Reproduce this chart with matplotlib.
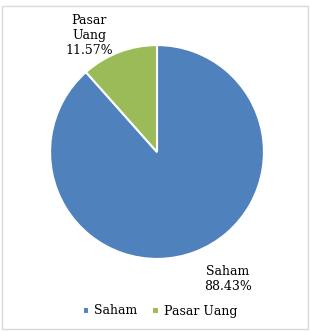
import matplotlib.pyplot as plt
from matplotlib.patches import Rectangle

labels = ["Saham", "Pasar Uang"]
shares = [88.43, 11.57]
colors = ["#4F81BD", "#9BBB59"]

W, H = 310, 331
fig = plt.figure(figsize=(W / 100, H / 100), dpi=100)
plt.rcParams["font.family"] = ["DejaVu Serif"]

# chart frame
fig.patches.append(Rectangle((2 / W, 1 - 329 / H), 306 / W, 323 / H,
                             transform=fig.transFigure, fill=False,
                             edgecolor="#D9D9D9", linewidth=1))

ax = fig.add_axes([49 / W, 1 - 260 / H, 216 / W, 216 / H])
wedges, _ = ax.pie(shares, colors=colors, startangle=90, counterclock=False,
                   radius=1, wedgeprops=dict(edgecolor="white", linewidth=1.5))
ax.set_xlim(-1.01, 1.01)
ax.set_ylim(-1.01, 1.01)

fs = 9
fig.text(89 / W, 1 - 35 / H, "Pasar\nUang\n%.2f%%" % shares[1], ha="center",
         va="center", fontsize=fs, linespacing=1.2)
fig.text(228 / W, 1 - 279 / H, "%s\n%.2f%%" % (labels[0], shares[0]), ha="center",
         va="center", fontsize=fs, linespacing=1.25)

fig.legend(wedges, labels, loc="center", bbox_to_anchor=(160 / W, 1 - 311 / H),
           ncol=2, frameon=False, fontsize=fs, handlelength=0.5, handleheight=0.5,
           handletextpad=0.4, columnspacing=1.2)

fig.savefig("out.png", dpi=100)
